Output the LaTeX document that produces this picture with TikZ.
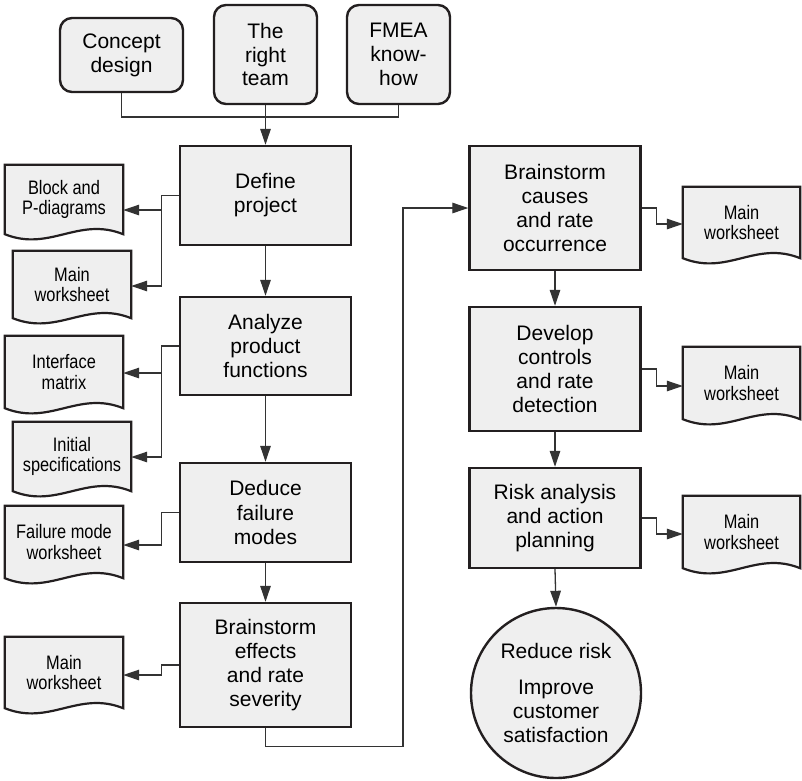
\documentclass[tikz,border=0pt]{standalone}
\usepackage{fontspec}
\setmainfont{Liberation Sans}
\newfontfamily\condfont[FakeStretch=0.84]{Liberation Sans}
\usetikzlibrary{arrows.meta,backgrounds,calc}
\definecolor{boxfill}{HTML}{EFEFEF}
\definecolor{edge}{HTML}{231F20}
\definecolor{conn}{HTML}{333333}
\newcommand\docshape[1]{\path[docline] (#1.north west) -- (#1.north east) -- (#1.south east) .. controls ($(#1.south east)+(-45,-18)$) and ($(#1.south west)+(45,18)$) .. (#1.south west) -- cycle;}
\begin{document}
\begin{tikzpicture}[x=1pt,y=-1pt,
  stepbox/.style={draw=edge, line width=2.4pt, fill=boxfill, minimum width=171pt, align=center, font=\fontsize{21}{24.1}\selectfont, inner sep=0pt},
  topbox/.style={draw=edge, line width=2.4pt, fill=boxfill, rounded corners=12pt, align=center, font=\fontsize{21}{23.7}\selectfont, inner sep=0pt},
  docnode/.style={align=center, font=\condfont\fontsize{19.5}{20.7}\selectfont, minimum width=118pt, inner sep=0pt},
  docline/.style={draw=edge, line width=2.2pt, fill=boxfill},
  conline/.style={draw=conn, line width=1.3pt},
  arr/.style={draw=conn, line width=1.3pt, -{Triangle[length=16pt,width=10.5pt]}}]
\useasboundingbox (0,0) rectangle (802,780);

% top inputs
\node[topbox, minimum width=123pt, minimum height=74pt] (concept) at (121.5,55) {Concept\\design};
\node[topbox, minimum width=103pt, minimum height=99pt] (team) at (265.5,54.5) {The\\right\\team};
\node[topbox, minimum width=103pt, minimum height=99pt] (fmea) at (398.5,54.5) {FMEA\\know-\\how};

% left column
\node[stepbox, minimum height=99pt] (define) at (265.5,195.5) {Define\\project};
\node[stepbox, minimum height=98pt] (analyze) at (265.5,346) {Analyze\\product\\functions};
\node[stepbox, minimum height=99pt] (deduce) at (265.5,512.5) {Deduce\\failure\\modes};
\node[stepbox, minimum height=124pt] (effects) at (265.5,665) {Brainstorm\\effects\\and rate\\severity};

% right column
\node[stepbox, minimum height=124pt] (causes) at (555,208) {Brainstorm\\causes\\and rate\\occurrence};
\node[stepbox, minimum height=124pt] (develop) at (555,369) {Develop\\controls\\and rate\\detection};
\node[stepbox, minimum height=100pt] (risk) at (555,518) {Risk analysis\\and action\\planning};
\node[circle, draw=edge, line width=2.4pt, fill=boxfill, minimum size=170pt, inner sep=0pt, align=center, font=\fontsize{21}{24.1}\selectfont] (goal) at (556,693) {Reduce risk\\[12pt]Improve\\customer\\satisfaction};

% documents
\node[docnode, minimum height=69pt] (block) at (64,199.5) {Block and\\P-diagrams};
\node[docnode, minimum height=67pt] (main1) at (72,284.5) {Main\\worksheet};
\node[docnode, minimum height=72pt] (iface) at (64,372) {Interface\\matrix};
\node[docnode, minimum height=69pt] (init) at (72,456.5) {Initial\\specifications};
\node[docnode, minimum height=72pt] (fail) at (64,542) {Failure mode\\worksheet};
\node[docnode, minimum height=71pt] (main2) at (64,672.5) {Main\\worksheet};
\node[docnode, minimum width=117pt, minimum height=71pt] (rmain1) at (741.5,222.5) {Main\\worksheet};
\node[docnode, minimum width=117pt, minimum height=72pt] (rmain2) at (741.5,383) {Main\\worksheet};
\node[docnode, minimum width=117pt, minimum height=72pt] (rmain3) at (741.5,532) {Main\\worksheet};

\begin{scope}[on background layer]
\docshape{block}\docshape{main1}\docshape{iface}\docshape{init}\docshape{fail}\docshape{main2}
\docshape{rmain1}\docshape{rmain2}\docshape{rmain3}
\end{scope}

% connectors
\draw[conline] (concept.south) -- (concept.south |- 0,117) -- (fmea.south |- 0,117) -- (fmea.south);
\draw[arr] (team.south) -- (define.north);
\draw[arr] (define.south) -- (analyze.north);
\draw[arr] (analyze.south) -- (deduce.north);
\draw[arr] (deduce.south) -- (effects.north);
\draw[arr] (effects.south) -- ++(0,18) -| (403,208) -- (causes.west);
\draw[arr] (causes.south) -- (develop.north);
\draw[arr] (develop.south) -- (risk.north);
\draw[arr] (risk.south) -- (goal.north);

\draw[arr] (define.west) -- ++(-17,0) |- (main1.east |- 0,286);
\draw[arr] ($(define.west)+(-17,0)$) |- (block.east |- 0,210);
\draw[arr] (analyze.west) -- ++(-17,0) |- (init.east |- 0,457);
\draw[arr] ($(analyze.west)+(-17,0)$) |- (iface.east |- 0,373);
\draw[arr] (deduce.west) -- ++(-17,0) |- (fail.east |- 0,545);
\draw[arr] (effects.west) -- ++(-17,0) |- (main2.east |- 0,675);

\draw[arr] (causes.east) -- ++(15,0) |- (rmain1.west |- 0,224);
\draw[arr] (develop.east) -- ++(15,0) |- (rmain2.west |- 0,386);
\draw[arr] (risk.east) -- ++(15,0) |- (rmain3.west |- 0,534);
\end{tikzpicture}
\end{document}
